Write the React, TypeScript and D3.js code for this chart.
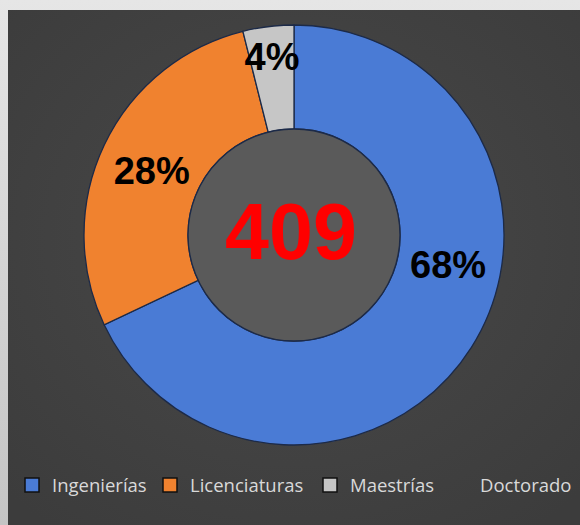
import React from "react";
import * as d3 from "d3";

const categories = ["Ingenierías", "Licenciaturas", "Maestrías", "Doctorado"];
const counts = [278, 115, 16, 0];
const percentLabels = ["68%", "28%", "4%", ""];
const total = 409;
const colors = ["#4a7bd5", "#f0822f", "#c6c6c6", "#5a5a5a"];

const W = 580;
const H = 525;
const cx = 294;
const cy = 235;
const rOuter = 210;
const rInner = 106;

export default function App() {
  const pie = d3.pie<number>().sort(null).value((d) => d);
  const arcs = pie(counts);
  const arcGen = d3.arc<d3.PieArcDatum<number>>().innerRadius(rInner).outerRadius(rOuter);

  // label placement: tweak of angle/radius relative to each slice
  const labelShift = [-0.37, -0.02, 0, 0];
  const labelRadius = [157, 156, 179, 0];
  const labels = arcs.map((a, i) => {
    const mid = (a.startAngle + a.endAngle) / 2 + labelShift[i];
    return {
      x: cx + labelRadius[i] * Math.sin(mid),
      y: cy - labelRadius[i] * Math.cos(mid),
      text: percentLabels[i],
    };
  });

  const legendX = [25, 163, 323, 453];
  const legendY = 478;

  return (
    <svg
      width={W}
      height={H}
      style={{ position: "absolute", left: 0, top: 0, display: "block" }}
    >
      <defs>
        <linearGradient id="frameTop" x1="0" y1="0" x2="0" y2="1">
          <stop offset="0" stopColor="#e6e6e6" />
          <stop offset="1" stopColor="#c4c4c4" />
        </linearGradient>
        <radialGradient id="bg" cx="0.5" cy="0.45" r="0.7">
          <stop offset="0" stopColor="#494949" />
          <stop offset="1" stopColor="#3c3c3c" />
        </radialGradient>
      </defs>
      <rect x={0} y={0} width={W} height={H} fill="url(#frameTop)" />
      <rect x={8} y={10} width={W - 8} height={H - 10} fill="url(#bg)" />
      <g transform={`translate(${cx},${cy})`}>
        {arcs.map((a, i) =>
          a.value > 0 ? (
            <path
              key={categories[i]}
              d={arcGen(a) || ""}
              fill={colors[i]}
              stroke="#1c2a48"
              strokeWidth={1.3}
            />
          ) : null
        )}
        <circle r={rInner} fill="#5a5a5a" stroke="#1c2a48" strokeWidth={1.3} />
      </g>
      {labels.map((l, i) =>
        l.text ? (
          <text
            key={i}
            x={l.x}
            y={l.y}
            textAnchor="middle"
            dominantBaseline="central"
            fontFamily="'Liberation Sans', Arial, sans-serif"
            fontWeight="bold"
            fontSize={38}
            fill="#000"
          >
            {l.text}
          </text>
        ) : null
      )}
      <text
        x={cx - 3}
        y={cy - 4}
        textAnchor="middle"
        dominantBaseline="central"
        fontFamily="'Liberation Sans', Arial, sans-serif"
        fontWeight="bold"
        fontSize={79}
        fill="#ff0000"
      >
        {total}
      </text>
      {categories.map((c, i) => (
        <g key={c}>
          {counts[i] > 0 ? (
            <rect
              x={legendX[i]}
              y={legendY}
              width={14}
              height={14}
              fill={colors[i]}
              stroke="#111"
              strokeWidth={1.5}
            />
          ) : null}
          <text
            x={legendX[i] + 27}
            y={legendY + 14}
            fontFamily="'Open Sans', sans-serif"
            fontSize={18.5}
            fill="#d9d9d9"
          >
            {c}
          </text>
        </g>
      ))}
    </svg>
  );
}
